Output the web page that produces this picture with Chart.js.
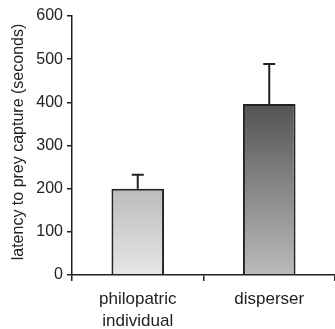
<!DOCTYPE html>
<html>
<head>
<meta charset="utf-8">
<script src="https://cdn.jsdelivr.net/npm/chart.js@4"></script>
<style>
  html, body { margin: 0; padding: 0; background: #fff; }
  canvas { display: block; }
</style>
</head>
<body>
<canvas id="chart" width="335" height="329"></canvas>
<script>
// ----- data -----
const categories = [['philopatric', 'individual'], 'disperser'];
const latency = [200, 396];
const errorUp = [32, 93];
const yTicks = [0, 100, 200, 300, 400, 500, 600];
const yTitle = 'latency to prey capture (seconds)';

const FONT = '"Liberation Sans", Arial, Helvetica, sans-serif';
const INK = '#222';

// gradient per bar: [top colour, bottom colour]
const barShades = [['#bcbcbc', '#e6e6e6'], ['#545454', '#bababa']];

function barFill(ctx) {
  const chart = ctx.chart;
  const y = chart.scales.y;
  if (!y || !chart.chartArea) return barShades[ctx.dataIndex][1];
  const top = y.getPixelForValue(latency[ctx.dataIndex]);
  const bottom = y.getPixelForValue(0);
  const g = chart.ctx.createLinearGradient(0, top, 0, bottom);
  g.addColorStop(0, barShades[ctx.dataIndex][0]);
  g.addColorStop(1, barShades[ctx.dataIndex][1]);
  return g;
}

// error bars (upper half only, the lower half is hidden by the bar)
const errorBars = {
  id: 'errorBars',
  afterDatasetsDraw(chart) {
    const { ctx } = chart;
    const y = chart.scales.y;
    const meta = chart.getDatasetMeta(0);
    ctx.save();
    ctx.strokeStyle = INK;
    ctx.lineWidth = 2;
    meta.data.forEach((bar, i) => {
      const yTop = y.getPixelForValue(latency[i] + errorUp[i]);
      ctx.beginPath();
      ctx.moveTo(bar.x, bar.y);
      ctx.lineTo(bar.x, yTop);
      ctx.moveTo(bar.x - 6, yTop);
      ctx.lineTo(bar.x + 6, yTop);
      ctx.stroke();
    });
    ctx.restore();
  }
};

// y title sits a bit lower than the plot centre, as in the original
const sideTitle = {
  id: 'sideTitle',
  afterDraw(chart) {
    const { ctx } = chart;
    ctx.save();
    ctx.translate(19, 142);
    ctx.rotate(-Math.PI / 2);
    ctx.font = '16px ' + FONT;
    ctx.fillStyle = INK;
    ctx.textAlign = 'center';
    ctx.textBaseline = 'middle';
    ctx.fillText(yTitle, 0, 0);
    ctx.restore();
  }
};

new Chart(document.getElementById('chart'), {
  type: 'bar',
  data: {
    labels: categories,
    datasets: [{
      data: latency,
      backgroundColor: barFill,
      borderColor: INK,
      borderWidth: 2,
      borderSkipped: 'start',
      categoryPercentage: 1,
      barPercentage: 0.4
    }]
  },
  options: {
    responsive: false,
    animation: false,
    layout: { padding: { top: 16, right: 0, left: 0, bottom: 0 } },
    plugins: { legend: { display: false }, tooltip: { enabled: false } },
    scales: {
      x: {
        offset: true,
        grid: { display: true, drawOnChartArea: false, offset: true, tickLength: 6, color: INK, lineWidth: 1.5 },
        border: { display: true, color: INK, width: 1.5, z: 1 },
        ticks: { color: INK, font: { family: FONT, size: 17, lineHeight: 1.25 }, padding: 8, maxRotation: 0 },
        afterFit: (s) => { s.height = 54; }
      },
      y: {
        min: 0,
        max: 600,
        afterBuildTicks: (s) => { s.ticks = yTicks.map(v => ({ value: v })); },
        grid: { display: true, drawOnChartArea: false, tickLength: 5, color: INK, lineWidth: 1.5 },
        border: { display: true, color: INK, width: 1.5 },
        ticks: { color: INK, font: { family: FONT, size: 16 }, padding: 4 },
        afterFit: (s) => { s.width = 72; }
      }
    }
  },
  plugins: [errorBars, sideTitle]
});
</script>
</body>
</html>
